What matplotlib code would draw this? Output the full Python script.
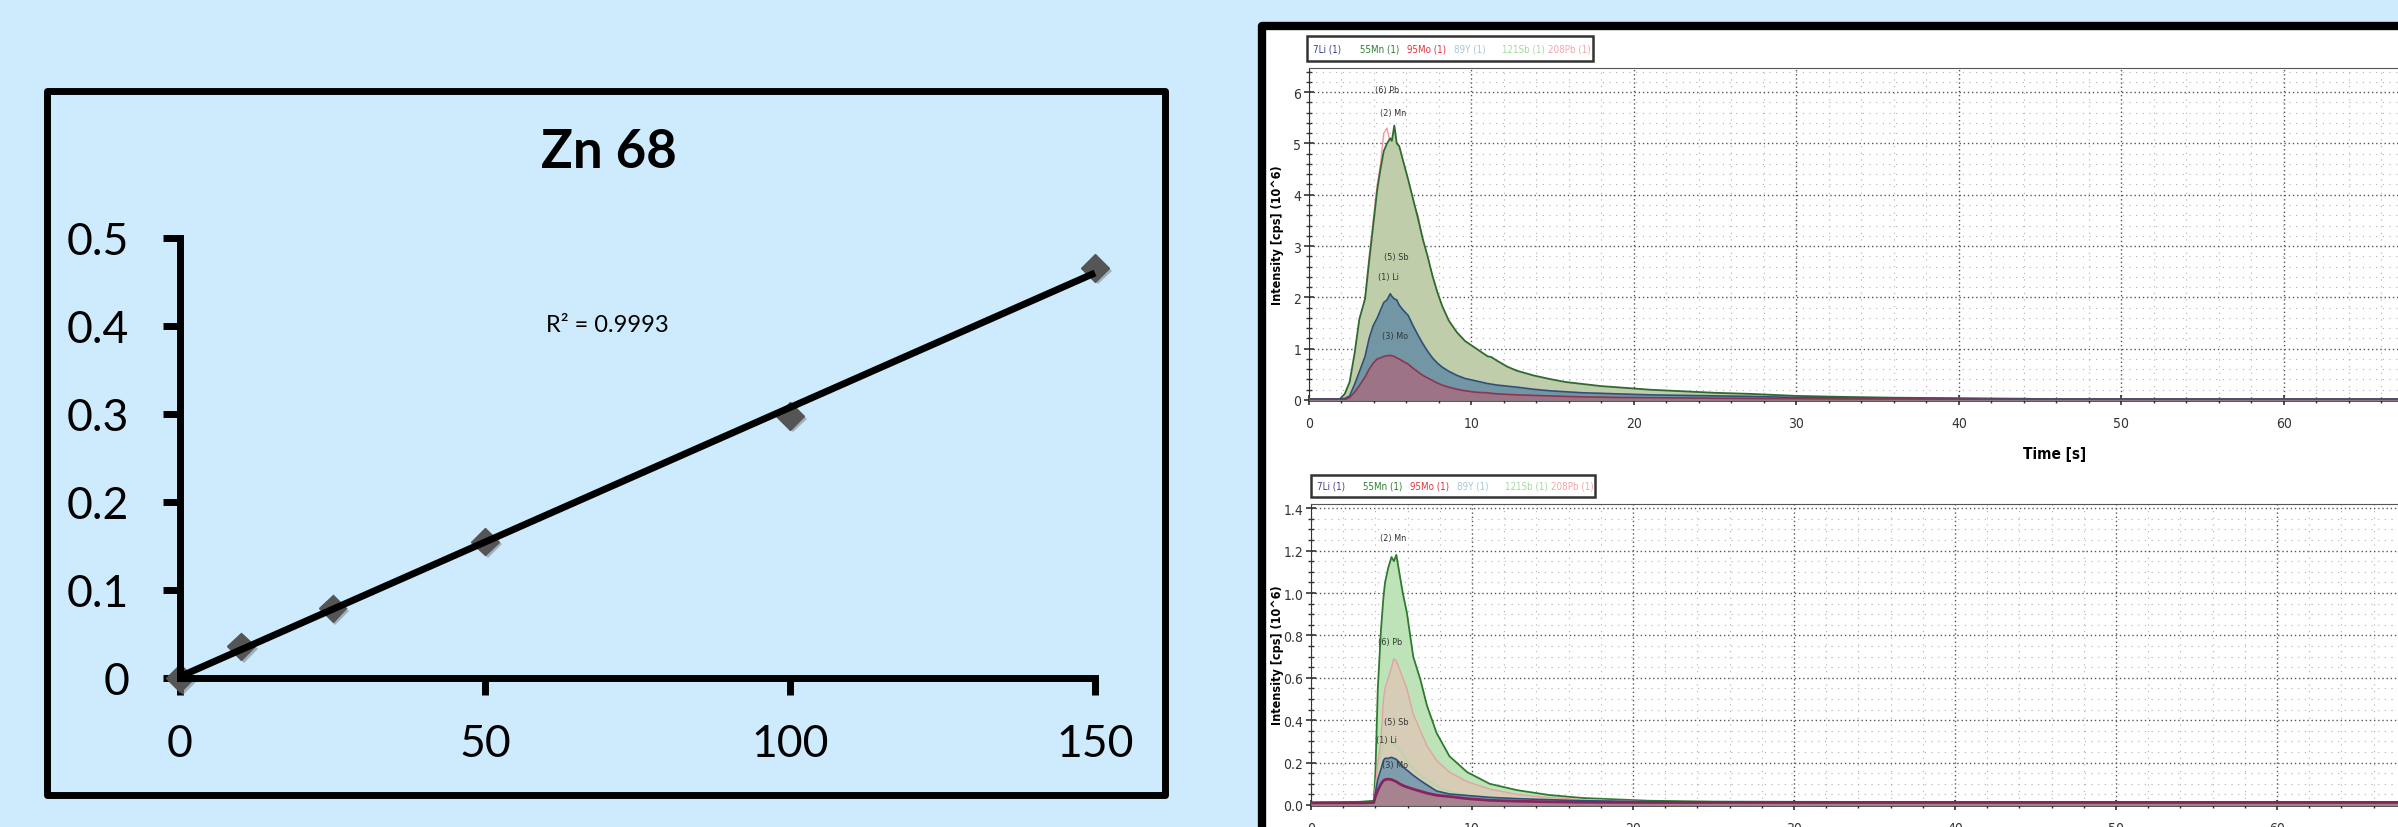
import numpy as np
import matplotlib
matplotlib.use("Agg")
import matplotlib.pyplot as plt
import matplotlib.patheffects as pe
from matplotlib import font_manager
from matplotlib.font_manager import FontProperties
from matplotlib.patches import Rectangle
from matplotlib.ticker import MultipleLocator, FormatStrFormatter

W, H = 2398, 828
BG = "#cdebfd"

# ---- left: Zn 68 calibration ----
CAL_TITLE = "Zn 68"
R2_LABEL = "R\u00b2 = 0.9993"
CONC = [0, 10, 25, 50, 100, 150]
SIGNAL = [0.0, 0.036, 0.079, 0.155, 0.298, 0.466]
CAL_XTICKS = [0, 50, 100, 150]
CAL_YTICKS = [0, 0.1, 0.2, 0.3, 0.4, 0.5]
CAL_YLABELS = ["0", "0.1", "0.2", "0.3", "0.4", "0.5"]

# ---- right: transient signals ----
LEGEND_LABELS = ["7Li (1)", "55Mn (1)", "95Mo (1)", "89Y (1)", "121Sb (1)", "208Pb (1)"]
LEGEND_COLORS = ["#3b3f8f", "#2f7a35", "#e0323a", "#a9c6d6", "#9fdc9a", "#f2a5a8"]
YLABEL = "Intensity [cps] (10^6)"
XLABEL = "Time [s]"

# upper run
T_TOP = [0, 1.9, 2.2, 2.5, 2.8, 3.1, 3.45, 3.7, 3.95, 4.2, 4.4, 4.6, 4.8, 5.0, 5.1,
         5.25, 5.4, 5.55, 5.8, 6.1, 6.4, 6.7, 7.0, 7.3, 7.6, 7.9, 8.2, 8.6, 9.1, 9.6,
         10.3, 11.0, 11.2, 11.6, 12.2, 12.8, 13.8, 14.8, 15.8, 16.9, 18.0, 18.9, 21.0,
         23.0, 25.0, 27.1, 30.0, 33.0, 36.0, 40.0, 44.0, 46.0, 70.0]
MN_TOP = [0.02, 0.02, 0.12, 0.35, 0.9, 1.58, 1.97, 2.7, 3.4, 4.1, 4.5, 4.85, 5.0, 5.1, 5.05,
          5.35, 5.0, 4.95, 4.65, 4.3, 3.92, 3.55, 3.14, 2.8, 2.42, 2.1, 1.83, 1.55, 1.32, 1.15,
          1.0, 0.85, 0.84, 0.76, 0.65, 0.57, 0.48, 0.41, 0.35, 0.31, 0.27, 0.25, 0.2,
          0.17, 0.14, 0.12, 0.08, 0.06, 0.045, 0.035, 0.025, 0.01, 0.01]
PB_TOP = [0.02, 0.02, 0.1, 0.3, 0.8, 1.5, 2.0, 2.8, 3.5, 4.2, 4.6, 5.2, 5.3, 5.0, 4.95,
          5.1, 4.9, 4.8, 4.5, 4.15, 3.85, 3.6, 3.1, 2.75, 2.38, 2.05, 1.78, 1.5, 1.28, 1.1,
          0.95, 0.8, 0.8, 0.7, 0.61, 0.53, 0.45, 0.38, 0.32, 0.28, 0.25, 0.22, 0.18,
          0.15, 0.12, 0.1, 0.07, 0.05, 0.04, 0.03, 0.02, 0.01, 0.01]
SB_TOP = [0.01, 0.01, 0.05, 0.15, 0.4, 0.75, 1.0, 1.4, 1.7, 2.0, 2.2, 2.35, 2.4, 2.4, 2.38,
          2.35, 2.3, 2.25, 2.1, 1.95, 1.75, 1.55, 1.35, 1.2, 1.05, 0.9, 0.8, 0.68, 0.58, 0.5,
          0.43, 0.37, 0.37, 0.33, 0.3, 0.27, 0.23, 0.2, 0.17, 0.15, 0.13, 0.12, 0.1,
          0.08, 0.07, 0.06, 0.04, 0.03, 0.025, 0.02, 0.015, 0.01, 0.01]
LI_TOP = [0.02, 0.02, 0.03, 0.08, 0.3, 0.55, 0.85, 1.2, 1.45, 1.6, 1.75, 1.9, 1.95, 2.07, 2.02,
          1.97, 1.95, 1.85, 1.75, 1.65, 1.45, 1.27, 1.1, 0.95, 0.82, 0.72, 0.64, 0.56, 0.48, 0.42,
          0.37, 0.32, 0.31, 0.29, 0.27, 0.25, 0.21, 0.18, 0.16, 0.14, 0.13, 0.12, 0.1,
          0.09, 0.08, 0.07, 0.05, 0.04, 0.03, 0.025, 0.02, 0.02, 0.02]
MO_TOP = [0.01, 0.01, 0.01, 0.05, 0.15, 0.28, 0.45, 0.6, 0.72, 0.8, 0.82, 0.85, 0.86, 0.87, 0.86,
          0.85, 0.82, 0.8, 0.75, 0.7, 0.62, 0.55, 0.48, 0.43, 0.38, 0.33, 0.29, 0.25, 0.21, 0.18,
          0.15, 0.14, 0.13, 0.12, 0.11, 0.1, 0.09, 0.08, 0.07, 0.06, 0.055, 0.05, 0.045,
          0.04, 0.035, 0.03, 0.025, 0.02, 0.02, 0.015, 0.01, 0.01, 0.01]
PEAKS_TOP = [("(6) Pb", 4.8, 6.06), ("(2) Mn", 5.2, 5.6), ("(5) Sb", 5.4, 2.79),
             ("(1) Li", 4.9, 2.4), ("(3) Mo", 5.3, 1.25)]

# lower run
T_BOT = [0, 3.0, 3.9, 4.0, 4.15, 4.35, 4.5, 4.6, 4.8, 5.0, 5.15, 5.3, 5.5, 5.7, 5.95,
         6.35, 6.8, 7.2, 7.8, 8.6, 9.7, 11.1, 12.8, 14.8, 16.9, 21.0, 25.0, 30.0, 40.0, 70.0]
MN_BOT = [0.012, 0.015, 0.02, 0.15, 0.55, 0.83, 0.98, 1.05, 1.12, 1.17, 1.15, 1.18, 1.09, 1.0, 0.91,
          0.70, 0.59, 0.47, 0.34, 0.23, 0.155, 0.10, 0.07, 0.047, 0.033, 0.02, 0.016, 0.015, 0.014, 0.013]
SB_BOT = [0.005, 0.005, 0.008, 0.08, 0.18, 0.25, 0.28, 0.29, 0.3, 0.3, 0.29, 0.28, 0.26, 0.24, 0.21,
          0.17, 0.14, 0.12, 0.09, 0.065, 0.045, 0.03, 0.02, 0.015, 0.012, 0.01, 0.008, 0.007, 0.006, 0.006]
PB_BOT = [0.01, 0.01, 0.015, 0.08, 0.2, 0.31, 0.5, 0.55, 0.6, 0.65, 0.69, 0.68, 0.64, 0.6, 0.55,
          0.43, 0.35, 0.28, 0.21, 0.155, 0.11, 0.075, 0.05, 0.035, 0.025, 0.015, 0.012, 0.01, 0.01, 0.01]
LI_BOT = [0.008, 0.01, 0.012, 0.06, 0.12, 0.17, 0.21, 0.22, 0.22, 0.225, 0.22, 0.215, 0.2, 0.18, 0.165,
          0.14, 0.115, 0.095, 0.066, 0.052, 0.045, 0.036, 0.03, 0.025, 0.02, 0.016, 0.014, 0.012, 0.012, 0.012]
MO_BOT = [0.01, 0.01, 0.012, 0.04, 0.07, 0.1, 0.115, 0.12, 0.122, 0.12, 0.115, 0.11, 0.1, 0.092, 0.085,
          0.075, 0.065, 0.056, 0.046, 0.04, 0.03, 0.022, 0.018, 0.015, 0.013, 0.012, 0.012, 0.012, 0.012, 0.012]
PEAKS_BOT = [("(2) Mn", 5.1, 1.26), ("(6) Pb", 4.9, 0.77), ("(5) Sb", 5.3, 0.395),
             ("(1) Li", 4.7, 0.31), ("(3) Mo", 5.2, 0.19)]


def narrow_font(bold=False):
    # the instrument software uses a condensed sans; take one if installed
    want = 700 if bold else 400
    for f in font_manager.fontManager.ttflist:
        cond = ("Narrow" in f.name or "Condensed" in f.name
                or f.stretch in ("condensed", "semi-condensed", "extra-condensed"))
        if cond and f.style == "normal" and f.weight == want:
            return FontProperties(fname=f.fname)
    return FontProperties(family="Roboto", weight="bold" if bold else "normal")


NARROW = narrow_font()
NARROW_B = narrow_font(bold=True)


def fx(x):
    return x / W


def fy(y):
    return 1 - y / H


def frac_rect(x0, y0, x1, y1):
    # pixel box (top-left origin) -> figure fraction rect
    return [fx(x0), fy(y1), (x1 - x0) / W, (y1 - y0) / H]


fig = plt.figure(figsize=(W / 100, H / 100), dpi=100, facecolor=BG)

# ---------------- calibration panel ----------------
fig.add_artist(Rectangle((fx(46.5), fy(795.5)), (1165 - 46.5) / W, (795.5 - 91.5) / H,
                         transform=fig.transFigure, fc=BG, ec="black", lw=5,
                         joinstyle="round", zorder=0))

ax = fig.add_axes(frac_rect(180, 239, 1095, 679))
ax.set_facecolor("none")
ax.set_xlim(0, 150)
ax.set_ylim(0, 0.5)
for s in ("top", "right"):
    ax.spines[s].set_visible(False)
for s in ("left", "bottom"):
    ax.spines[s].set_linewidth(5)
ax.set_xticks(CAL_XTICKS)
ax.set_xticklabels([str(v) for v in CAL_XTICKS])
ax.set_yticks(CAL_YTICKS)
ax.set_yticklabels(CAL_YLABELS)
ax.tick_params(length=12.5, width=5, direction="out", labelsize=32)
ax.tick_params(axis="y", pad=24)
ax.tick_params(axis="x", pad=20)
for lab in ax.get_xticklabels() + ax.get_yticklabels():
    lab.set_family("Lato")

slope, icpt = np.polyfit(CONC, SIGNAL, 1)
ax.plot(CONC, SIGNAL, "D", ms=14, color="#555555", zorder=2, clip_on=False,
        path_effects=[pe.SimplePatchShadow(offset=(2, -2), shadow_rgbFace="#7d8d97", alpha=0.6),
                      pe.Normal()])
xs = np.array([CONC[0], CONC[-1]])
ax.plot(xs, slope * xs + icpt, color="black", lw=5, zorder=3, clip_on=False,
        solid_capstyle="butt")

fig.text(fx(609), fy(153), CAL_TITLE, ha="center", va="center", fontsize=38,
         fontweight="bold", family="Lato")
fig.text(fx(607), fy(326), R2_LABEL, ha="center", va="center", fontsize=17, family="Lato")

# ---------------- chromatogram panel ----------------
fig.add_artist(Rectangle((fx(1262), fy(880)), (2450 - 1262) / W, (880 - 27) / H,
                         transform=fig.transFigure, fc="white", ec="black", lw=6,
                         joinstyle="round", zorder=0))


def style_chrom(a, ytop, ymaj, ymin, yfmt):
    a.set_facecolor("white")
    a.set_xlim(0, 69)
    a.set_ylim(0, ytop)
    a.xaxis.set_major_locator(MultipleLocator(10))
    a.xaxis.set_minor_locator(MultipleLocator(2))
    a.yaxis.set_major_locator(MultipleLocator(ymaj))
    a.yaxis.set_minor_locator(MultipleLocator(ymin))
    a.yaxis.set_major_formatter(FormatStrFormatter(yfmt))
    a.grid(which="major", color="#555555", ls=(0, (1, 2)), lw=1.0)
    a.grid(which="minor", color="#b0b0b0", ls=(0, (1, 5)), lw=0.8)
    a.set_axisbelow(True)
    a.spines["left"].set_color("#333333")
    a.spines["top"].set_color("#555555")
    a.spines["bottom"].set_color("#222222")
    a.spines["bottom"].set_linewidth(1.8)
    a.spines["right"].set_visible(False)
    a.tick_params(which="major", direction="inout", length=7, width=1.2, colors="#333333")
    a.tick_params(which="minor", direction="inout", length=4, width=1, colors="#333333")
    a.tick_params(axis="x", pad=8)
    a.tick_params(axis="y", pad=2)
    for lab in a.get_xticklabels() + a.get_yticklabels():
        lab.set_fontproperties(NARROW)
        lab.set_fontsize(10)


def draw_series(a, t, series):
    for vals, fill, line, lw, z in series:
        if fill is not None:
            a.fill_between(t, vals, color=fill, lw=0, zorder=z)
        a.plot(t, vals, color=line, lw=lw, zorder=z + 0.5)


def legend_box(x0, y0, x1, y1, starts):
    fig.add_artist(Rectangle((fx(x0), fy(y1)), (x1 - x0) / W, (y1 - y0) / H,
                             transform=fig.transFigure, fc="white", ec="#333333", lw=1.8))
    for lab, col, xs_ in zip(LEGEND_LABELS, LEGEND_COLORS, starts):
        fig.text(fx(xs_), fy((y0 + y1) / 2), lab, color=col, ha="left", va="center",
                 fontproperties=NARROW, fontsize=7)


ax1 = fig.add_axes(frac_rect(1309, 69, 1309 + 69 * 16.25, 401))
style_chrom(ax1, 6.47, 1, 0.2, "%d")
draw_series(ax1, T_TOP, [
    (SB_TOP, None, "#a8d6a0", 0.8, 2),
    (PB_TOP, None, "#f09aa0", 1.0, 2.2),
    (MN_TOP, "#bfcdab", "#2f6a30", 1.3, 3),
    (LI_TOP, "#7396a5", "#2f4f78", 1.2, 4),
    (MO_TOP, "#9d7486", "#8c3550", 1.2, 5),
])
for lab, x, y in PEAKS_TOP:
    ax1.text(x, y, lab, ha="center", va="center", fontproperties=NARROW, fontsize=6.5,
             color="#333333", zorder=7)

ax2 = fig.add_axes(frac_rect(1311, 505, 1311 + 69 * 16.1, 806))
style_chrom(ax2, 1.42, 0.2, 0.05, "%.1f")
draw_series(ax2, T_BOT, [
    (MN_BOT, "#bfe3b8", "#2f7a30", 1.3, 2),
    (SB_BOT, None, "#a8dca0", 0.8, 2.8),
    (PB_BOT, "#d7ccb6", "#e3a3a3", 1.0, 3),
    (LI_BOT, "#7f9ead", "#2f4f78", 1.2, 4),
    (MO_BOT, "#a7828f", "#86245e", 2.0, 5),
])
for lab, x, y in PEAKS_BOT:
    ax2.text(x, y, lab, ha="center", va="center", fontproperties=NARROW, fontsize=6.5,
             color="#333333", zorder=7)

legend_box(1307, 37, 1593, 62, [1313, 1360, 1407, 1454, 1502, 1548])
legend_box(1311, 476, 1595, 498, [1317, 1363, 1410, 1457, 1505, 1551])

fig.text(fx(2055), fy(455), XLABEL, ha="center", va="center", fontproperties=NARROW_B,
         fontsize=11)
for yc in (235, 655):
    fig.text(fx(1278), fy(yc), YLABEL, ha="center", va="center", rotation=90,
             fontproperties=NARROW_B, fontsize=9)

fig.savefig("out.png", dpi=100, facecolor=BG)
